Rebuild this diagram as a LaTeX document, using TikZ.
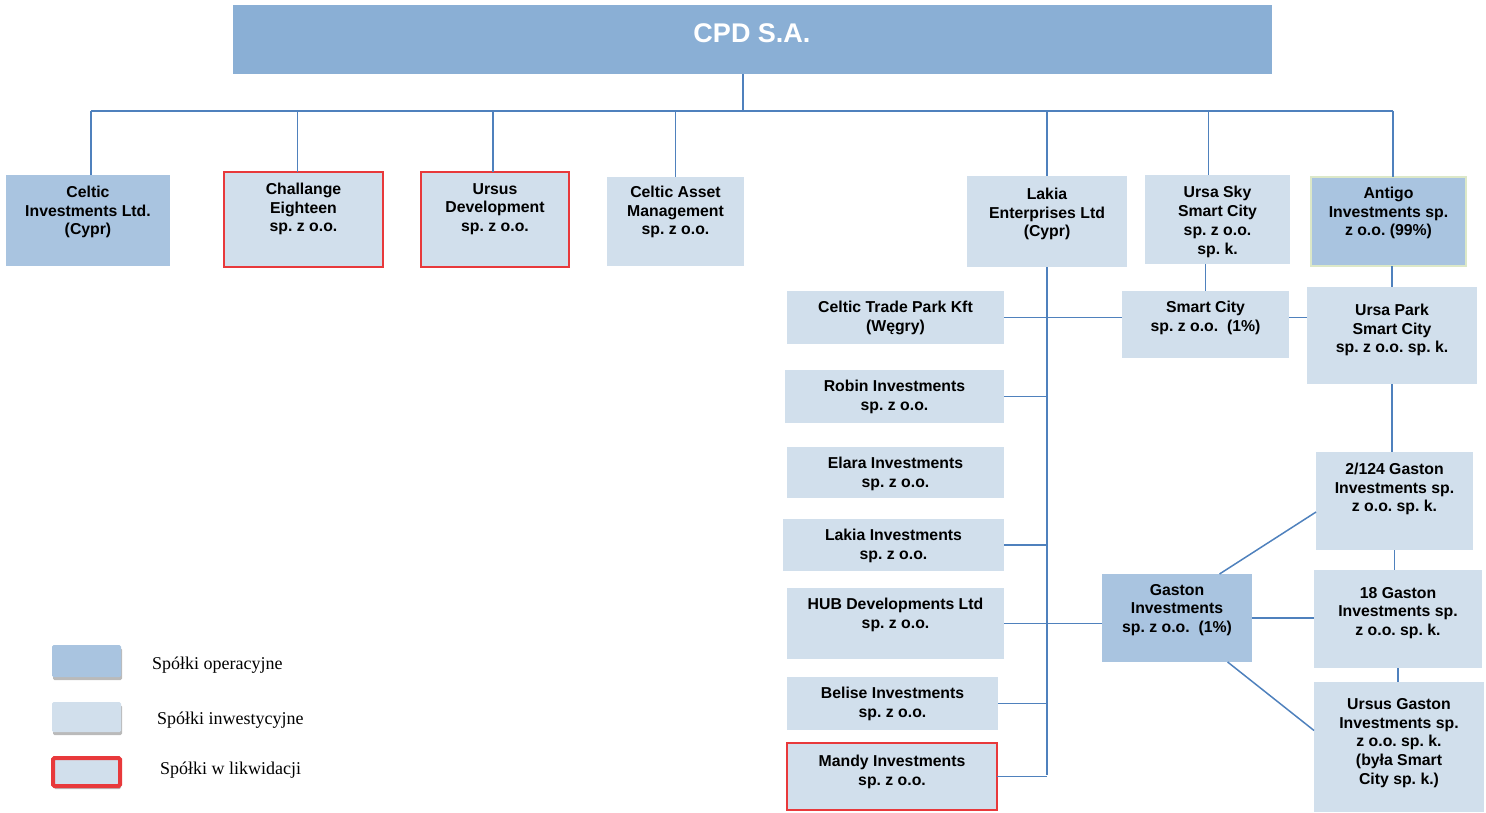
\documentclass[tikz,border=0pt]{standalone}
\usepackage{fontspec}
\setmainfont{Liberation Sans}
\newfontfamily\legfont{Liberation Serif}
\usetikzlibrary{calc,shadows}
\definecolor{opc}{HTML}{A9C4E0}
\definecolor{inv}{HTML}{D1DFEC}
\definecolor{topc}{HTML}{8AAFD5}
\definecolor{ln}{HTML}{4F81BD}
\definecolor{rd}{HTML}{E8393B}
\definecolor{grb}{HTML}{DCE8C8}
\frenchspacing
\tikzset{
  box/.style={inner sep=0pt, outer sep=0pt, anchor=north west},
  opbox/.style={box, fill=opc},
  invbox/.style={box, fill=inv},
  liqbox/.style={box, fill=inv, draw=rd, line width=1.5pt},
  txt/.style={font=\bfseries\fontsize{15.8}{18.8}\selectfont, align=center, inner sep=0pt},
  conn/.style={draw=ln, line width=1.5pt},
  legtxt/.style={font=\legfont\fontsize{18}{20}\selectfont, anchor=west, inner sep=0pt},
  legshadow/.style={drop shadow={shadow xshift=1pt, shadow yshift=-3pt, fill=black!60, opacity=0.45}},
}
% #1 name, #2 style, #3 x1, #4 y1, #5 x2, #6 y2, #7 text centre y, #8 text
\newcommand\cbox[8]{%
  \node[#2, minimum width={(#5-#3)*1pt}, minimum height={(#6-#4)*1pt}] (#1) at (#3,#4) {};
  \node[txt] (#1-t) at ({(#3+#5)/2},#7) {#8};
}
\begin{document}
\begin{tikzpicture}[x=1pt,y=-1pt]
\useasboundingbox (0,0) rectangle (1486,812);

% top
\node[box, fill=topc, minimum width=1039pt, minimum height=69pt] (cpd) at (233,5) {};
\node[txt, font=\bfseries\fontsize{27}{30}\selectfont, text=white] (cpd-t) at (752,33) {CPD S.A.};

% first level
\cbox{ci}{opbox}{6}{175}{170}{266}{212}{Celtic\\Investments Ltd.\\(Cypr)}
\cbox{ch}{liqbox}{224}{172}{383}{267}{209}{Challange\\Eighteen\\sp. z o.o.}
\cbox{ud}{liqbox}{421}{172}{569}{267}{209}{Ursus\\Development\\sp. z o.o.}
\cbox{ca}{invbox}{607}{177}{744}{266}{212}{Celtic Asset\\Management\\sp. z o.o.}
\cbox{le}{invbox}{967}{176}{1127}{267}{214}{Lakia\\Enterprises Ltd\\(Cypr)}
\cbox{us}{invbox}{1145}{175}{1290}{264}{222}{Ursa Sky\\Smart City\\sp. z o.o.\\sp. k.}
\cbox{an}{opbox,draw=grb,line width=1.2pt}{1311}{177}{1466}{266}{213}{Antigo\\Investments sp.\\z o.o. (99\%)}

% Lakia column
\cbox{ctp}{invbox}{787}{291}{1004}{344}{318}{Celtic Trade Park Kft\\(Węgry)}
\cbox{rb}{invbox}{785}{370}{1004}{423}{397}{Robin Investments\\sp. z o.o.}
\cbox{el}{invbox}{787}{447}{1004}{498}{474}{Elara Investments\\sp. z o.o.}
\cbox{li}{invbox}{783}{519}{1004}{571}{546}{Lakia Investments\\sp. z o.o.}
\cbox{hub}{invbox}{787}{588}{1004}{659}{615}{HUB Developments Ltd\\sp. z o.o.}
\cbox{be}{invbox}{787}{677}{998}{730}{704}{Belise Investments\\sp. z o.o.}
\cbox{ma}{liqbox}{787}{743}{997}{810}{772}{Mandy Investments\\sp. z o.o.}

% right part
\cbox{sc}{invbox}{1122}{291}{1289}{358}{318}{Smart City\\sp. z o.o.~~(1\%)}
\cbox{up}{invbox}{1307}{287}{1477}{384}{330}{Ursa Park\\Smart City\\sp. z o.o. sp. k.}
\cbox{g2}{invbox}{1316}{452}{1473}{550}{489}{2/124 Gaston\\Investments sp.\\z o.o. sp. k.}
\cbox{g18}{invbox}{1314}{570}{1482}{668}{613}{18 Gaston\\Investments sp.\\z o.o. sp. k.}
\cbox{ug}{invbox}{1314}{682}{1484}{812}{743}{Ursus Gaston\\Investments sp.\\z o.o. sp. k.\\(była Smart\\City sp. k.)}
\cbox{ga}{opbox}{1102}{574}{1252}{662}{610}{Gaston\\Investments\\sp. z o.o.~~(1\%)}

% legend
\node[opbox, legshadow, rounded corners=1.5pt, minimum width=69pt, minimum height=32pt] (l1) at (52,645) {};
\node[invbox, legshadow, rounded corners=1.5pt, minimum width=69pt, minimum height=30pt] (l2) at (52,702) {};
\node[box, fill=inv, draw=rd, line width=4pt, legshadow, rounded corners=1.5pt, minimum width=67pt, minimum height=28pt] (l3) at (53,758) {};
\node[legtxt] (l1-t) at (152,665) {Spółki operacyjne};
\node[legtxt] (l2-t) at (157,720) {Spółki inwestycyjne};
\node[legtxt] (l3-t) at (160,770) {Spółki w likwidacji};

% connectors
\coordinate (bus) at (743,111);
\coordinate (lbot) at (1048,775);
\draw[conn] (bus |- cpd.south) -- (bus);
\foreach \n/\d in {ci/3,ch/-6,ud/-2,ca/0,le/0,us/-9,an/4.5}{
  \path ($(\n.north)+(\d,0)$) coordinate (d\n);
  \draw[conn] (d\n |- bus) -- (d\n);
}
\draw[conn] (dci |- bus) -- (dan |- bus);
\draw[conn] (le.south) -- (le.south |- lbot);
\draw[conn] (ctp.east) -- (ctp.east -| sc.west);
\draw[conn] (ctp.east -| sc.east) -- (ctp.east -| up.west);
\foreach \n in {rb,li,be,ma} \draw[conn] (\n.east) -- (\n.east -| le.south);
\draw[conn] (hub.east) -- (hub.east -| ga.west);
\draw[conn] (sc.north |- us.south) -- (sc.north);
\draw[conn] (up.north |- an.south) -- (up.north);
\draw[conn] (up.south) -- (up.south |- g2.north);
\draw[conn] (g2.south) -- (g2.south |- g18.north);
\draw[conn] (g18.south) -- (g18.south |- ug.north);
\draw[conn] (ga.46) -- (g2.188);
\draw[conn] (ga.east) -- (ga.east -| g18.west);
\draw[conn] (ga.-41) -- (ug.169);
\end{tikzpicture}
\end{document}
